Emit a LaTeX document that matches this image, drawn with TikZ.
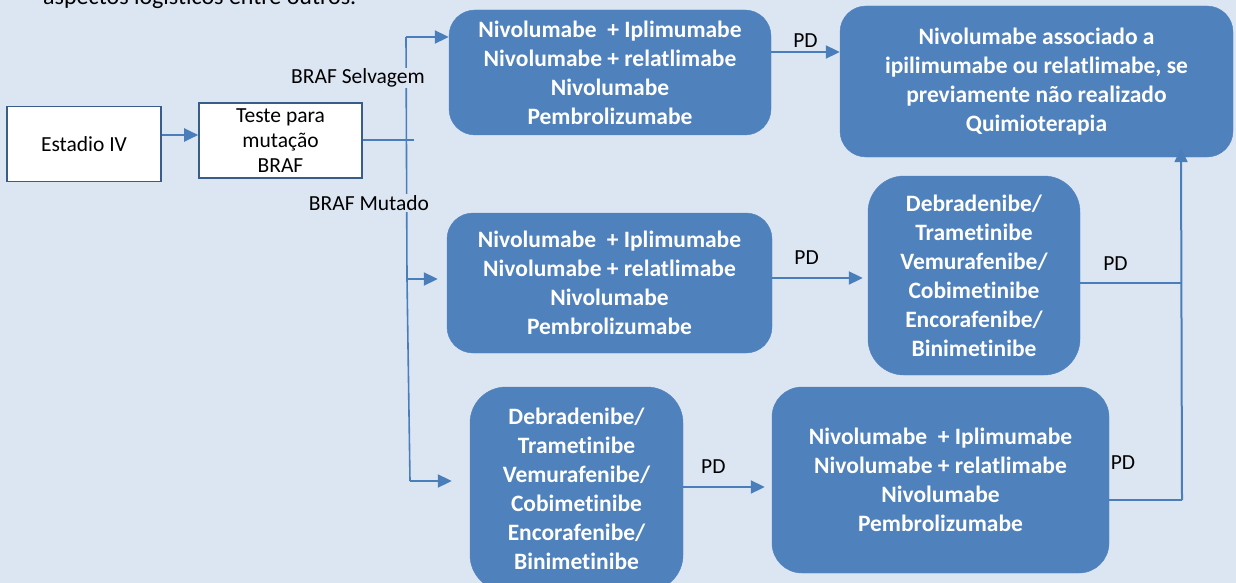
\documentclass[tikz,border=0pt]{standalone}
\usepackage{fontspec}
\setmainfont[Ligatures=NoCommon]{Carlito}
\usepackage{tikz}
\usetikzlibrary{positioning,shapes,arrows.meta}
\usepackage{xcolor}

\definecolor{bgblue}{HTML}{DCE6F2}
\definecolor{boxblue}{HTML}{4F81BD}
\definecolor{lineblue}{HTML}{4A7EBB}
\definecolor{navy}{HTML}{385D8A}

\tikzset{
    drug/.style={rectangle, rounded corners=26pt, fill=boxblue, draw=boxblue, text=white, align=center, inner sep=0pt, font=\bfseries\fontsize{23.5}{29}\selectfont},
    plain/.style={rectangle, draw=navy, line width=1.6pt, fill=white, align=center, inner sep=0pt, font=\fontsize{21.5}{25}\selectfont},
    lbl/.style={font=\fontsize{21.5}{24}\selectfont, inner sep=1pt},
    flow/.style={-{Triangle[length=14pt,width=13pt]}, line width=2pt, draw=lineblue},
    wire/.style={line width=1.6pt, draw=lineblue}
}

\begin{document}
\begin{tikzpicture}[x=1pt, y=-1pt]
    \useasboundingbox (0,0) rectangle (1236,583);
    \fill[bgblue] (0,0) rectangle (1236,583);
    \node (intro) [lbl, font=\fontsize{24}{28}\selectfont, anchor=base west] at (42,5) {aspectos logísticos entre outros.};

    \node (stage) [plain, minimum width=154pt, minimum height=75pt] at (84,144) {Estadio IV};
    \node (test) [plain, minimum width=163pt, minimum height=75pt] at (280.5,140.5) {Teste para\\mutação\\BRAF};

    \node (imuno1) [drug, minimum width=322pt, minimum height=125pt] at (610,72.5) {Nivolumabe\ \ + Iplimumabe\\Nivolumabe + relatlimabe\\Nivolumabe\\Pembrolizumabe};
    \node (final) [drug, minimum width=393pt, minimum height=151pt] at (1036.5,81.5) {Nivolumabe associado a\\ipilimumabe ou relatlimabe, se\\previamente não realizado\\Quimioterapia};
    \node (imuno2) [drug, minimum width=325pt, minimum height=140pt] at (609.5,283) {Nivolumabe\ \ + Iplimumabe\\Nivolumabe + relatlimabe\\Nivolumabe\\Pembrolizumabe};
    \node (alvo1) [drug, rounded corners=36pt, minimum width=212pt, minimum height=199pt] at (974,275.5) {Debradenibe/\\Trametinibe\\Vemurafenibe/\\Cobimetinibe\\Encorafenibe/\\Binimetinibe};
    \node (alvo2) [drug, rounded corners=36pt, minimum width=213pt, minimum height=204pt] at (576.5,489) {Debradenibe/\\Trametinibe\\Vemurafenibe/\\Cobimetinibe\\Encorafenibe/\\Binimetinibe};
    \node (imuno3) [drug, rounded corners=30pt, minimum width=337pt, minimum height=186pt] at (940.5,480) {Nivolumabe\ \ + Iplimumabe\\Nivolumabe + relatlimabe\\Nivolumabe\\Pembrolizumabe};

    % split after the BRAF test
    \coordinate (split top) at (406,37);
    \coordinate (split mid) at (407,279);
    \coordinate (split low) at (410,481);
    \coordinate (join low) at (1182,500);
    \coordinate (join mid) at (1181,283);

    \draw[flow] (stage.east |- 0,135) -- (test.west |- 0,135);
    \draw[wire] (test.east |- 0,140) -- +(51,0);
    \draw[wire] (split top) -- (split mid) -- (split low);
    \draw[flow] (split top) -- (imuno1.west |- split top);
    \draw[flow] (split mid) -- ([xshift=-9pt]imuno2.west |- split mid);
    \draw[flow] (split low) -- ([xshift=-18pt]alvo2.west |- split low);
    \node (wild) [lbl, fill=bgblue] at (358,78) {BRAF Selvagem};
    \node (mut) [lbl, fill=bgblue] at (369,203) {BRAF Mutado};

    % progression
    \draw[flow] (imuno1.east |- 0,52) -- node (pd1) [lbl, above, yshift=2pt] {PD} (final.west |- 0,52);
    \draw[flow] (imuno2.east |- 0,278) -- node (pd2) [lbl, above, pos=.38, yshift=12pt] {PD} ([xshift=-5pt]alvo1.west |- 0,278);
    \draw[flow] (alvo2.east |- 0,487) -- node (pd3) [lbl, above, pos=.37, yshift=12pt] {PD} ([xshift=-7pt]imuno3.west |- 0,487);
    \draw[wire] (alvo1.east |- join mid) -- node (pd4) [lbl, above, pos=.35, yshift=11pt] {PD} (join mid);
    \draw[wire] (imuno3.east |- join low) -- (join low);
    \node (pd5) [lbl] at (1123,463) {PD};
    \draw[flow] (join low) -- ([yshift=9pt]final.south -| join mid);
\end{tikzpicture}
\end{document}
